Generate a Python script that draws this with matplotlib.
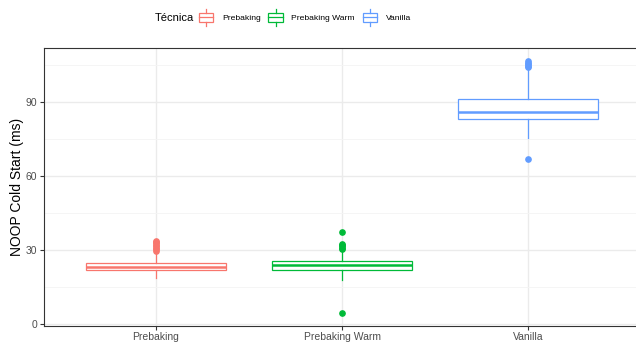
import matplotlib
matplotlib.use("Agg")
import matplotlib.pyplot as plt
from matplotlib.legend_handler import HandlerBase
from matplotlib.patches import Rectangle
from matplotlib.lines import Line2D

plt.rcParams['font.family'] = ['Liberation Sans', 'DejaVu Sans']

# boxplot summaries per technique (ms)
tecnicas = ['Prebaking', 'Prebaking Warm', 'Vanilla']
colores = ['#F8766D', '#00BA38', '#619CFF']
q1 = [21.7, 21.9, 83.0]
mediana = [23.2, 24.0, 86.0]
q3 = [24.9, 25.6, 91.2]
bigote_inf = [18.5, 17.7, 75.3]
bigote_sup = [28.9, 29.6, 103.4]
atipicos = [
    [29.6, 30.2, 30.8, 31.4, 32.0, 32.6, 33.2, 33.8],
    [30.3, 30.9, 31.4, 31.9, 32.4, 37.1, 4.3],
    [104.0, 104.6, 105.2, 105.8, 106.4, 66.7],
]

fig = plt.figure(figsize=(6.36, 3.45), dpi=100)
ax = fig.add_axes([44.4 / 636, 19.5 / 345, 595.2 / 636, 277.2 / 345])

stats = []
for i, t in enumerate(tecnicas):
    stats.append(dict(label=t, q1=q1[i], med=mediana[i], q3=q3[i],
                      whislo=bigote_inf[i], whishi=bigote_sup[i],
                      fliers=atipicos[i]))

lw = 0.9
for i, s in enumerate(stats):
    c = colores[i]
    ax.bxp([s], positions=[i + 1], widths=0.75, patch_artist=True,
           showcaps=False,
           boxprops=dict(facecolor='white', edgecolor=c, linewidth=lw),
           medianprops=dict(color=c, linewidth=1.8),
           whiskerprops=dict(color=c, linewidth=lw),
           flierprops=dict(marker='o', markerfacecolor=c, markeredgecolor=c,
                           markersize=3.8),
           zorder=3)

ax.set_xlim(0.4, 3.6)
ax.set_ylim(-0.6, 111.6)
ax.set_yticks([0, 30, 60, 90])
ax.set_yticks([15, 45, 75, 105], minor=True)
ax.set_xticks([1, 2, 3])
ax.set_xticklabels(tecnicas)
ax.grid(True, which='major', color='#EBEBEB', linewidth=1.0, zorder=0)
ax.grid(True, which='minor', axis='y', color='#F4F4F4', linewidth=0.6, zorder=0)
ax.set_axisbelow(True)
ax.tick_params(axis='both', which='major', length=3, width=0.8, color='#333333',
               labelcolor='#4D4D4D', labelsize=7.5, pad=2)
ax.tick_params(axis='y', which='minor', length=0)
for sp in ax.spines.values():
    sp.set_color('#333333')
    sp.set_linewidth(0.8)
ax.set_ylabel('NOOP Cold Start (ms)', fontsize=10, color='black', labelpad=1)


class HandlerCaja(HandlerBase):
    def create_artists(self, legend, orig_handle, xdescent, ydescent,
                       width, height, fontsize, trans):
        c = orig_handle.get_color()
        x0 = -xdescent
        y0 = -ydescent
        cx = x0 + width / 2
        h = height
        rect = Rectangle((x0, y0), width, h, facecolor='white', edgecolor=c,
                         linewidth=0.9, transform=trans)
        med = Line2D([x0, x0 + width], [y0 + 0.5 * h] * 2,
                     color=c, linewidth=0.9, transform=trans)
        w1 = Line2D([cx, cx], [y0 - 0.4 * h, y0], color=c, linewidth=0.9,
                    transform=trans)
        w2 = Line2D([cx, cx], [y0 + h, y0 + 1.4 * h], color=c, linewidth=0.9,
                    transform=trans)
        return [rect, med, w1, w2]


handles = [Line2D([], [], color=c) for c in colores]
fig.text(155 / 636, 1 - 18 / 345, 'Técnica', fontsize=8, va='center', ha='left')
# legend metrics are in font-size units, so keep the key size fixed in points
fs = 6.1
key_w, key_h = 10.2 / fs, 7.9 / fs
fig.legend(handles, tecnicas, handler_map={Line2D: HandlerCaja()},
           ncol=3, loc='center left', bbox_to_anchor=(199 / 636, 1 - 17.5 / 345),
           frameon=False, prop=dict(size=fs),
           handlelength=key_w, handleheight=key_h, handletextpad=6.3 / fs,
           columnspacing=5.6 / fs, borderpad=0, borderaxespad=0)

fig.savefig('out.png', dpi=100)
